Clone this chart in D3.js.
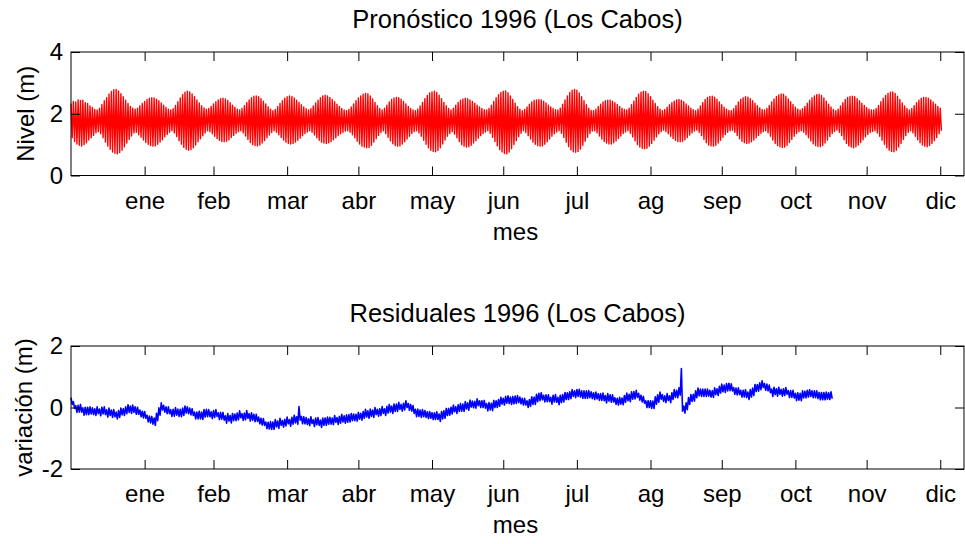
<!DOCTYPE html>
<html lang="es">
<head>
<meta charset="utf-8">
<title>Pronóstico y residuales 1996 (Los Cabos)</title>
<script src="https://d3js.org/d3.v7.min.js"></script>
<style>
  body { margin: 0; background: #fff; }
  svg { display: block; font-family: "Liberation Sans", Arial, sans-serif; }
</style>
</head>
<body>
<svg id="fig" width="965" height="544"></svg>
<script>
// etiquetas del eje x (fin de cada mes, dia del año)
const meses = ["ene", "feb", "mar", "abr", "may", "jun", "jul", "ag", "sep", "oct", "nov", "dic"];
const finMes = [31, 60, 91, 121, 152, 182, 213, 244, 274, 305, 335, 366];

// pronostico: nivel maximo y minimo de cada dia (m), dias 0..366
const pleamar = [
  2.33,2.40,2.38,2.45,2.43, 2.44,2.36,2.33,2.25,2.20,2.14,2.12, 2.18,2.30,2.42,2.52,2.64,2.72,2.78,2.79,
  2.74,2.65,2.55,2.44,2.33,2.24,2.18, 2.15,2.18,2.26,2.33,2.40,2.46,2.50,2.52,2.51, 2.47,2.42,2.35,2.28,2.21,2.15,2.12,
  2.16,2.27,2.39,2.51,2.62,2.70,2.73, 2.71,2.64,2.55,2.45,2.35,2.26,2.19,2.15, 2.17,2.24,2.32,2.39,2.45,2.49,2.50,
  2.48,2.43,2.36,2.28,2.21,2.15,2.12, 2.17,2.26,2.36,2.45,2.52,2.57,2.58, 2.55,2.49,2.41,2.32,2.23,2.15,2.10,
  2.14,2.23,2.33,2.42,2.50,2.55,2.58, 2.56,2.51,2.44,2.37,2.29,2.22,2.16,2.12, 2.16,2.25,2.35,2.44,2.52,2.58,2.60,
  2.58,2.53,2.46,2.39,2.31,2.24,2.17,2.12,2.10, 2.14,2.22,2.32,2.42,2.51,2.58,2.63,2.66,2.65, 2.58,2.48,2.37,2.26,2.17,2.12,
  2.18,2.28,2.38,2.46,2.51,2.53,2.52, 2.47,2.40,2.32,2.24,2.17,2.12,2.10, 2.15,2.25,2.37,2.49,2.59,2.67,2.71,2.73,
  2.69,2.60,2.49,2.37,2.26,2.17,2.12, 2.18,2.28,2.37,2.44,2.48,2.50,2.49, 2.45,2.40,2.34,2.28,2.22,2.17,2.13,2.12,
  2.17,2.28,2.40,2.52,2.62,2.69,2.73,2.74, 2.68,2.58,2.46,2.34,2.23,2.15,2.10, 2.14,2.22,2.31,2.38,2.43,2.45,2.46,2.45,
  2.41,2.35,2.28,2.22,2.17,2.13,2.12, 2.18,2.31,2.45,2.58,2.69,2.76,2.79, 2.76,2.67,2.55,2.42,2.29,2.18,2.11,2.10,
  2.15,2.23,2.31,2.38,2.42,2.44,2.44, 2.41,2.36,2.30,2.24,2.18,2.14,2.12, 2.18,2.29,2.41,2.53,2.63,2.70,2.73,2.72,
  2.65,2.55,2.44,2.33,2.23,2.15,2.10, 2.14,2.21,2.29,2.36,2.41,2.45,2.46, 2.44,2.39,2.32,2.25,2.18,2.13,2.10,
  2.15,2.25,2.36,2.46,2.53,2.56,2.57, 2.54,2.47,2.38,2.29,2.21,2.15,2.11,2.10, 2.16,2.27,2.38,2.47,2.52,2.55,2.54,
  2.49,2.42,2.34,2.26,2.19,2.14,2.12, 2.17,2.27,2.38,2.48,2.56,2.61,2.64,2.63, 2.57,2.48,2.39,2.30,2.21,2.15,2.12,
  2.16,2.24,2.34,2.44,2.52,2.58,2.62,2.63, 2.59,2.51,2.41,2.31,2.22,2.14,2.10, 2.15,2.25,2.36,2.46,2.53,2.56,2.57,
  2.55,2.49,2.42,2.34,2.27,2.20,2.15,2.12,2.12, 2.17,2.27,2.39,2.50,2.59,2.66,2.70,2.71, 2.66,2.57,2.46,2.35,2.25,2.17,2.12,
  2.17,2.26,2.36,2.44,2.50,2.53,2.53, 2.50,2.45,2.38,2.31,2.24,2.18
];
const bajamar = [
  1.22,1.10,1.02,0.98,0.95, 1.00,1.06,1.15,1.22,1.30,1.38,1.42, 1.35,1.22,1.08,0.95,0.85,0.76,0.72,0.70,
  0.74,0.82,0.93,1.05,1.17,1.28,1.38, 1.40,1.32,1.24,1.15,1.07,1.01,0.97,0.95,0.96, 1.01,1.08,1.16,1.25,1.33,1.40,1.45,
  1.38,1.26,1.13,1.01,0.91,0.85,0.82, 0.84,0.90,0.99,1.09,1.19,1.29,1.38,1.45, 1.42,1.35,1.27,1.20,1.14,1.10,1.09,
  1.11,1.16,1.23,1.30,1.37,1.42,1.45, 1.38,1.28,1.17,1.07,1.00,0.97,0.96, 0.99,1.05,1.13,1.22,1.31,1.39,1.45,
  1.40,1.32,1.23,1.15,1.08,1.04,1.02, 1.04,1.08,1.14,1.21,1.29,1.36,1.41,1.45, 1.40,1.31,1.22,1.14,1.08,1.05,1.04,
  1.06,1.10,1.16,1.22,1.29,1.35,1.40,1.44,1.45, 1.40,1.32,1.22,1.11,1.02,0.95,0.92,0.90,0.91, 0.98,1.08,1.19,1.30,1.39,1.45,
  1.36,1.24,1.12,1.03,0.97,0.95,0.96, 1.02,1.09,1.18,1.27,1.36,1.42,1.45, 1.38,1.27,1.14,1.01,0.90,0.82,0.78,0.77,
  0.81,0.90,1.02,1.15,1.27,1.36,1.42, 1.34,1.22,1.10,1.00,0.95,0.92,0.93, 0.98,1.05,1.13,1.21,1.29,1.36,1.41,1.45,
  1.37,1.24,1.10,0.96,0.84,0.76,0.71,0.70, 0.76,0.87,1.00,1.13,1.26,1.37,1.45, 1.39,1.29,1.18,1.08,1.01,0.97,0.95,0.96,
  1.01,1.09,1.18,1.27,1.35,1.41,1.45, 1.37,1.23,1.08,0.94,0.83,0.77,0.75, 0.78,0.86,0.98,1.11,1.24,1.36,1.44,1.45,
  1.38,1.28,1.18,1.10,1.05,1.02,1.02, 1.06,1.12,1.20,1.28,1.36,1.41,1.45, 1.37,1.25,1.12,1.00,0.92,0.88,0.87,0.88,
  0.95,1.04,1.14,1.25,1.35,1.42,1.47, 1.42,1.35,1.27,1.20,1.14,1.10,1.09, 1.11,1.16,1.23,1.31,1.38,1.44,1.47,
  1.40,1.29,1.17,1.06,0.99,0.96,0.95, 0.98,1.05,1.14,1.24,1.33,1.40,1.45,1.47, 1.40,1.30,1.19,1.11,1.06,1.04,1.05,
  1.09,1.15,1.22,1.30,1.37,1.42,1.45, 1.38,1.27,1.15,1.04,0.97,0.93,0.91,0.92, 0.98,1.07,1.17,1.27,1.36,1.42,1.45,
  1.40,1.32,1.22,1.12,1.03,0.97,0.94,0.93, 0.97,1.05,1.15,1.26,1.36,1.43,1.47, 1.40,1.29,1.16,1.04,0.96,0.92,0.90,
  0.93,0.99,1.07,1.16,1.25,1.33,1.39,1.43,1.45, 1.38,1.27,1.14,1.01,0.90,0.82,0.78,0.77, 0.82,0.92,1.04,1.17,1.29,1.39,1.45,
  1.38,1.27,1.16,1.06,0.99,0.95,0.93, 0.97,1.04,1.13,1.23,1.35,1.45
];

// residuales: maximo y minimo de cada dia (m), dias 0..320
const residMax = [
  0.32,0.19,0.06,0.07,0.10,-0.01,0.01,0.01,0.02,-0.01, -0.04,0.02,-0.05,0.01,0.02,-0.07,-0.02,-0.08,-0.07,-0.15,
  -0.10,-0.02,-0.04,0.02,0.09,0.05,0.08,0.02,0.01,-0.08, -0.12,-0.13,-0.25,-0.28,-0.29,-0.34,-0.19,-0.01,0.15,0.07,
  0.02,0.02,-0.07,-0.06,0.00,-0.05,-0.06,-0.02,0.05,0.02, -0.02,-0.04,-0.15,-0.15,-0.12,-0.15,-0.07,-0.06,-0.07,-0.14,
  -0.10,-0.07,-0.17,-0.16,-0.16,-0.27,-0.20,-0.26,-0.20,-0.21, -0.18,-0.11,-0.20,-0.18,-0.10,-0.20,-0.17,-0.22,-0.22,-0.31,
  -0.35,-0.36,-0.47,-0.48,-0.46,-0.47,-0.39,-0.44,-0.35,-0.42, -0.38,-0.31,-0.39,-0.32,-0.25,-0.30,0.03,-0.29,-0.30,-0.33,
  -0.37,-0.30,-0.40,-0.34,-0.33,-0.41,-0.34,-0.34,-0.31,-0.32, -0.34,-0.26,-0.33,-0.29,-0.22,-0.27,-0.24,-0.23,-0.20,-0.21,
  -0.22,-0.16,-0.19,-0.13,-0.06,-0.11,-0.05,-0.08,0.00,-0.06, -0.04,0.03,-0.04,0.04,0.10,0.05,0.11,0.11,0.17,0.10,
  0.14,0.22,0.13,0.10,0.06,-0.06,-0.05,-0.08,-0.07,-0.10, -0.14,-0.13,-0.17,-0.17,-0.14,-0.21,-0.13,-0.11,-0.03,-0.03,
  0.01,0.08,0.03,0.09,0.13,0.11,0.19,0.15,0.24,0.21, 0.20,0.28,0.22,0.22,0.23,0.13,0.16,0.14,0.23,0.22,
  0.26,0.33,0.30,0.36,0.38,0.34,0.36,0.37,0.39,0.34, 0.30,0.30,0.22,0.26,0.35,0.34,0.43,0.46,0.48,0.40,
  0.41,0.41,0.33,0.40,0.42,0.33,0.40,0.42,0.49,0.48, 0.51,0.58,0.54,0.58,0.59,0.54,0.54,0.54,0.55,0.51,
  0.48,0.50,0.45,0.45,0.47,0.39,0.45,0.41,0.41,0.32, 0.30,0.33,0.31,0.39,0.47,0.43,0.51,0.52,0.56,0.46,
  0.40,0.36,0.22,0.22,0.22,0.21,0.35,0.41,0.50,0.42, 0.38,0.45,0.38,0.48,0.58,0.56,0.64,1.27,0.05,0.15,
  0.32,0.42,0.43,0.54,0.63,0.60,0.60,0.60,0.60,0.56, 0.55,0.64,0.61,0.69,0.76,0.73,0.78,0.79,0.77,0.65,
  0.63,0.64,0.56,0.56,0.58,0.50,0.58,0.63,0.75,0.75, 0.80,0.87,0.78,0.76,0.73,0.60,0.66,0.61,0.66,0.59,
  0.61,0.65,0.55,0.55,0.56,0.46,0.48,0.46,0.54,0.53, 0.56,0.58,0.54,0.54,0.54,0.49,0.49,0.49,0.50,0.48,
  0.51
];
const residMin = [
  0.10,-0.03,-0.16,-0.15,-0.15,-0.25,-0.23,-0.23,-0.21,-0.23, -0.26,-0.20,-0.27,-0.21,-0.23,-0.31,-0.26,-0.32,-0.30,-0.37,
  -0.32,-0.24,-0.26,-0.20,-0.16,-0.19,-0.16,-0.22,-0.22,-0.30, -0.34,-0.35,-0.47,-0.50,-0.54,-0.58,-0.43,-0.25,-0.08,-0.15,
  -0.20,-0.20,-0.29,-0.28,-0.25,-0.29,-0.30,-0.26,-0.18,-0.20, -0.24,-0.26,-0.37,-0.37,-0.37,-0.39,-0.31,-0.30,-0.30,-0.36,
  -0.32,-0.29,-0.39,-0.38,-0.41,-0.51,-0.44,-0.50,-0.43,-0.43, -0.40,-0.33,-0.42,-0.40,-0.35,-0.44,-0.41,-0.46,-0.45,-0.53,
  -0.57,-0.58,-0.69,-0.70,-0.71,-0.71,-0.63,-0.68,-0.58,-0.64, -0.60,-0.53,-0.61,-0.54,-0.50,-0.54,-0.41,-0.53,-0.53,-0.55,
  -0.59,-0.52,-0.62,-0.56,-0.58,-0.65,-0.58,-0.58,-0.54,-0.54, -0.56,-0.48,-0.55,-0.51,-0.47,-0.51,-0.48,-0.47,-0.43,-0.43,
  -0.44,-0.38,-0.41,-0.35,-0.31,-0.35,-0.29,-0.32,-0.23,-0.28, -0.26,-0.19,-0.26,-0.18,-0.15,-0.19,-0.13,-0.13,-0.06,-0.12,
  -0.08,0.00,-0.09,-0.12,-0.19,-0.30,-0.29,-0.32,-0.30,-0.32, -0.36,-0.35,-0.39,-0.39,-0.39,-0.45,-0.37,-0.35,-0.26,-0.25,
  -0.21,-0.14,-0.19,-0.13,-0.12,-0.13,-0.05,-0.09,0.01,-0.01, -0.02,0.06,0.00,0.00,-0.02,-0.11,-0.08,-0.10,0.00,0.00,
  0.04,0.11,0.08,0.14,0.13,0.10,0.12,0.13,0.16,0.12, 0.08,0.08,0.00,0.04,0.10,0.10,0.19,0.22,0.25,0.18,
  0.19,0.19,0.11,0.18,0.17,0.09,0.16,0.18,0.26,0.26, 0.29,0.36,0.32,0.36,0.34,0.30,0.30,0.30,0.32,0.29,
  0.26,0.28,0.23,0.23,0.22,0.15,0.21,0.17,0.18,0.10, 0.08,0.11,0.09,0.17,0.22,0.19,0.27,0.28,0.33,0.24,
  0.18,0.14,0.00,0.00,-0.03,-0.03,0.11,0.17,0.27,0.20, 0.16,0.23,0.16,0.26,0.33,0.32,0.40,-0.12,-0.18,-0.07,
  0.10,0.20,0.21,0.32,0.38,0.36,0.36,0.36,0.37,0.34, 0.33,0.42,0.39,0.47,0.51,0.49,0.54,0.55,0.54,0.43,
  0.41,0.42,0.34,0.34,0.33,0.26,0.34,0.39,0.52,0.53, 0.58,0.65,0.56,0.54,0.48,0.36,0.42,0.37,0.43,0.37,
  0.39,0.43,0.33,0.33,0.31,0.22,0.24,0.22,0.31,0.31, 0.34,0.36,0.32,0.32,0.29,0.25,0.25,0.25,0.27,0.26,
  0.29
];

const svg = d3.select("#fig");
const fuente = 24;
const izq = 71, der = 964;

const x = d3.scaleLinear().domain([0, 376]).range([izq, der]);

// alterna maximo y minimo de cada dia: max a la 0h, min a las 12h
function zigzag(maxs, mins) {
  const pts = [];
  maxs.forEach((v, i) => {
    pts.push([i, v]);
    pts.push([i + 0.5, mins[i]]);
  });
  return pts;
}

function panel(cfg) {
  const y = d3.scaleLinear().domain(cfg.dominio).range([cfg.abajo, cfg.arriba]);
  const g = svg.append("g");

  const linea = d3.line()
      .x(d => x(d[0]))
      .y(d => y(d[1]));

  g.append("path")
      .datum(zigzag(cfg.max, cfg.min))
      .attr("d", linea)
      .attr("fill", "none")
      .attr("stroke", cfg.color)
      .attr("stroke-width", cfg.grosor)
      .attr("stroke-linejoin", "round");

  // ejes con marcas hacia adentro, en los cuatro lados
  const ejeAbajo = g.append("g")
      .attr("transform", `translate(0,${cfg.abajo})`)
      .call(d3.axisBottom(x).tickValues(finMes)
        .tickFormat((d, i) => meses[i]).tickSize(-9).tickPadding(16));
  const ejeArriba = g.append("g")
      .attr("transform", `translate(0,${cfg.arriba})`)
      .call(d3.axisTop(x).tickValues(finMes).tickFormat("").tickSize(-9));
  const ejeIzq = g.append("g")
      .attr("transform", `translate(${izq},0)`)
      .call(d3.axisLeft(y).tickValues(cfg.marcasY)
        .tickFormat(d => String(d)).tickSize(-9).tickPadding(8));
  const ejeDer = g.append("g")
      .attr("transform", `translate(${der},0)`)
      .call(d3.axisRight(y).tickValues(cfg.marcasY).tickFormat("").tickSize(-9));

  [ejeAbajo, ejeArriba, ejeIzq, ejeDer].forEach(e => {
    e.select(".domain").remove();
    e.attr("font-size", fuente)
     .attr("font-family", "'Liberation Sans', Arial, sans-serif");
    e.selectAll("line").attr("stroke", "#000");
    e.selectAll("text").attr("fill", "#000");
  });

  g.append("rect")
      .attr("x", izq).attr("y", cfg.arriba)
      .attr("width", der - izq).attr("height", cfg.abajo - cfg.arriba)
      .attr("fill", "none").attr("stroke", "#000").attr("stroke-width", 1);

  g.append("text")
      .attr("x", (izq + der) / 2).attr("y", cfg.arriba - 24)
      .attr("text-anchor", "middle").attr("font-size", 25.5)
      .text(cfg.titulo);

  g.append("text")
      .attr("x", (izq + der) / 2 - 2).attr("y", cfg.abajo + 64)
      .attr("text-anchor", "middle").attr("font-size", fuente)
      .text("mes");

  g.append("text")
      .attr("transform", `translate(${cfg.xEtiqueta},${(cfg.arriba + cfg.abajo) / 2}) rotate(-90)`)
      .attr("text-anchor", "middle").attr("font-size", fuente)
      .text(cfg.etiquetaY);
}

panel({
  arriba: 52, abajo: 175.5, dominio: [0, 4], marcasY: [0, 2, 4],
  max: pleamar, min: bajamar, color: "#ff0000", grosor: 1.4,
  titulo: "Pronóstico 1996 (Los Cabos)", etiquetaY: "Nivel (m)", xEtiqueta: 34
});

panel({
  arriba: 346, abajo: 469, dominio: [-2, 2], marcasY: [-2, 0, 2],
  max: residMax, min: residMin, color: "#0000ff", grosor: 1.6,
  titulo: "Residuales 1996 (Los Cabos)", etiquetaY: "variación (m)", xEtiqueta: 32
});
</script>
</body>
</html>
